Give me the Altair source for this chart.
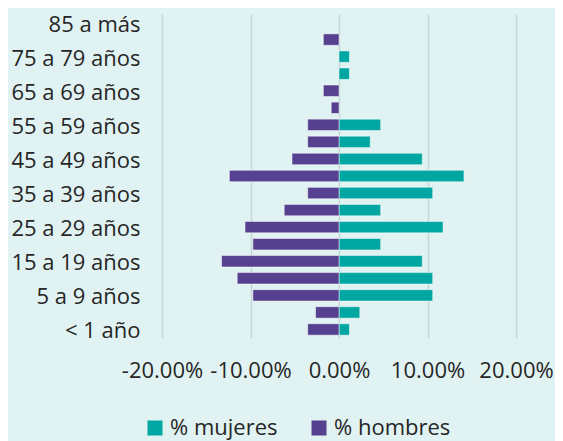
import altair as alt
import pandas as pd

categories = ["85 a más", "80 a 84 años", "75 a 79 años", "70 a 74 años", "65 a 69 años",
              "60 a 64 años", "55 a 59 años", "50 a 54 años", "45 a 49 años", "40 a 44 años",
              "35 a 39 años", "30 a 34 años", "25 a 29 años", "20 a 24 años", "15 a 19 años",
              "10 a 14 años", "5 a 9 años", "1 a 4 años", "< 1 año"]
mujeres = [0, 0, 1.18, 1.18, 0, 0, 4.71, 3.53, 9.41, 14.12, 10.59, 4.71, 11.76, 4.71,
           9.41, 10.59, 10.59, 2.35, 1.18]
hombres = [0, -1.77, 0, 0, -1.77, -0.88, -3.54, -3.54, -5.31, -12.39, -3.54, -6.19,
           -10.62, -9.73, -13.27, -11.50, -9.73, -2.65, -3.54]
shown_labels = categories[::2]
tick_values = [-20, -10, 0, 10, 20]
series = ["% mujeres", "% hombres"]
colors = ["#00A7A2", "#55418F"]

rows = []
for cat, m, h in zip(categories, mujeres, hombres):
    if m != 0:
        rows.append({"grupo": cat, "serie": series[0], "valor": m})
    if h != 0:
        rows.append({"grupo": cat, "serie": series[1], "valor": h})
df = pd.DataFrame(rows)

FONT = "Open Sans"
FS = 22
TXT = "#262626"

chart = alt.Chart(df).mark_bar(stroke="#ffffff", strokeWidth=0.7, strokeOpacity=0.7).encode(
    x=alt.X("valor:Q",
            scale=alt.Scale(domain=[-20, 20], nice=False, zero=False),
            axis=alt.Axis(values=tick_values, title=None,
                          labelExpr="(datum.value < 0 ? '-' : '') + format(abs(datum.value), '.2f') + '%'",
                          labelPadding=22, labelOverlap=False, labelFlush=False,
                          labelBound=False,
                          domain=False, ticks=False, grid=True,
                          gridColor="#c6d7d7", gridWidth=1.5,
                          labelFontSize=FS, labelFont=FONT, labelColor=TXT)),
    y=alt.Y("grupo:N",
            scale=alt.Scale(domain=categories, paddingInner=0.33, paddingOuter=0.165),
            axis=alt.Axis(values=shown_labels, title=None, domain=False, ticks=False,
                          grid=False, labelPadding=22, labelOffset=2,
                          labelOverlap=False,
                          labelFontSize=FS, labelFont=FONT, labelColor=TXT)),
    color=alt.Color("serie:N",
                    scale=alt.Scale(domain=series, range=colors),
                    legend=alt.Legend(title=None, orient="none", legendX=-18, legendY=403,
                                      direction="horizontal", symbolType="square",
                                      symbolSize=225, symbolStrokeWidth=0,
                                      labelFontSize=FS, labelFont=FONT, labelColor=TXT,
                                      columnPadding=30, labelOffset=4)),
).properties(
    width=354, height=324,
    autosize=alt.AutoSizeParams(type="none"),
    padding={"left": 154, "top": 6, "right": 39, "bottom": 103},
    background="#E1F2F2",
).configure_view(stroke=None)

chart.save("out.html", embed_options={"renderer": "svg", "actions": False})
